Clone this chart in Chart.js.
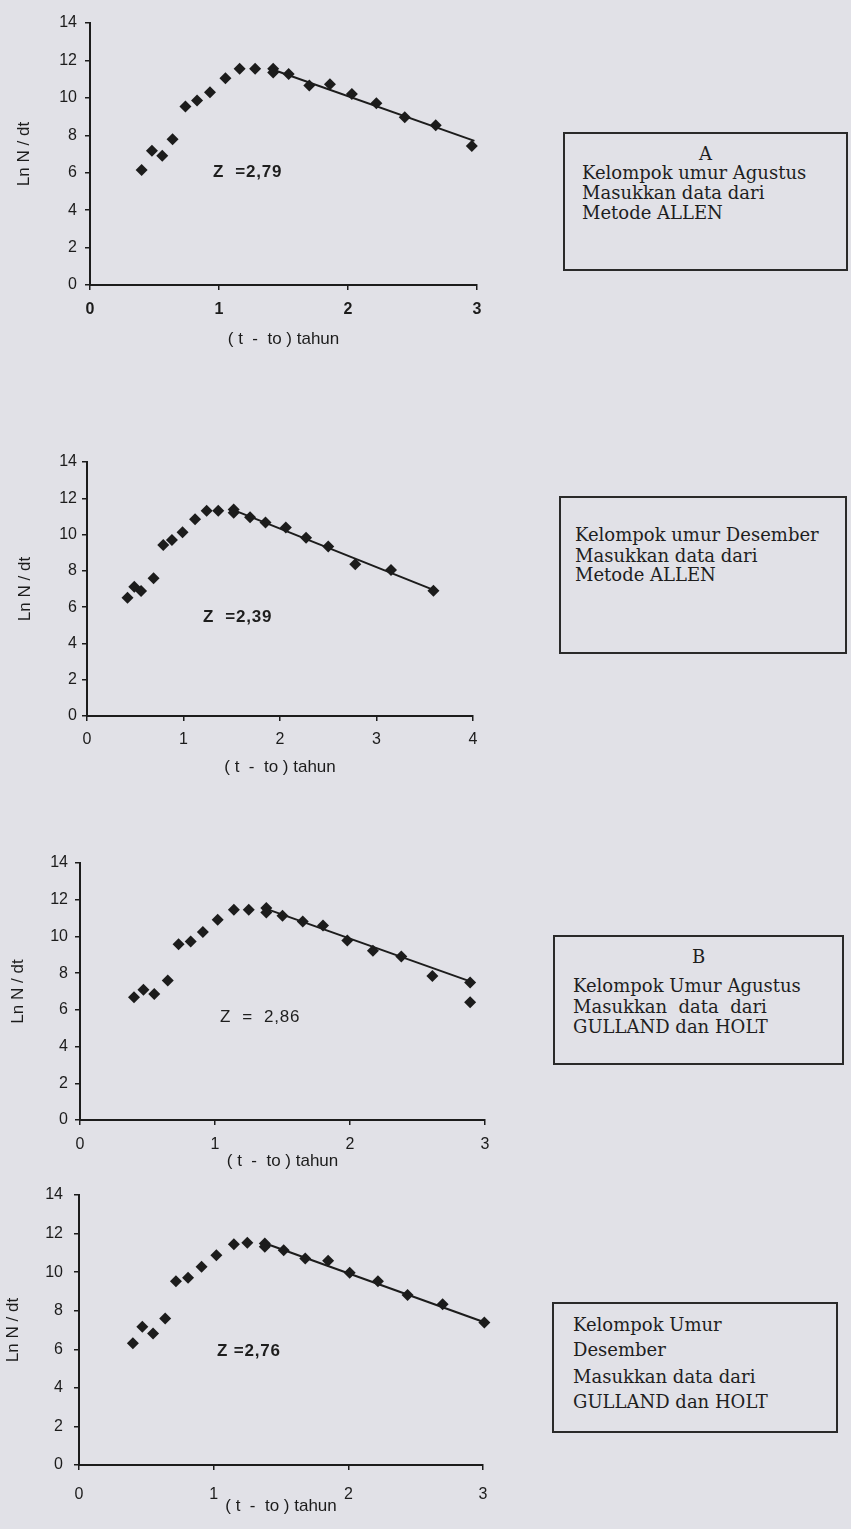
<!DOCTYPE html>
<html>
<head>
<meta charset="utf-8">
<script src="https://cdn.jsdelivr.net/npm/chart.js@4.4.1/dist/chart.umd.min.js"></script>
<style>
    body { margin: 0; background: #e1e1e7; }
    #page { position: relative; width: 851px; height: 1529px; overflow: hidden; background: #e1e1e7; }
    canvas { position: absolute; left: 0; }
    .zlabel { position: absolute; font-family: "Liberation Sans", Arial, sans-serif; font-size: 17px; letter-spacing: 0.8px; color: #1e1e1e; white-space: pre; }
    .caja { position: absolute; border: 2px solid #2a2a2a; font-family: "DejaVu Serif", "Liberation Serif", serif; font-size: 18px; line-height: 20px; color: #1e1e1e; box-sizing: border-box; }
    .caja div { position: absolute; white-space: pre; }
</style>
</head>
<body>
<div id="page">
    <canvas id="g1" width="510" height="360" style="top:0px"></canvas>
    <canvas id="g2" width="510" height="360" style="top:430px"></canvas>
    <canvas id="g3" width="510" height="340" style="top:840px"></canvas>
    <canvas id="g4" width="510" height="359" style="top:1170px"></canvas>

    <div class="zlabel" style="left:213px; top:162px; font-weight:bold;">Z  =2,79</div>
    <div class="zlabel" style="left:203px; top:607px; font-weight:bold;">Z  =2,39</div>
    <div class="zlabel" style="left:220px; top:1007px;">Z  =  2,86</div>
    <div class="zlabel" style="left:217px; top:1341px; font-weight:bold;">Z =2,76</div>

    <div class="caja" style="left:563px; top:132px; width:285px; height:139px;">
        <div style="left:0; width:100%; text-align:center; top:10px;">A</div>
        <div style="left:17px; top:29px;">Kelompok umur Agustus</div>
        <div style="left:17px; top:49px;">Masukkan data dari</div>
        <div style="left:17px; top:69px;">Metode ALLEN</div>
    </div>
    <div class="caja" style="left:559px; top:496px; width:288px; height:158px;">
        <div style="left:14px; top:27px;">Kelompok umur Desember</div>
        <div style="left:14px; top:48px;">Masukkan data dari</div>
        <div style="left:14px; top:67px;">Metode ALLEN</div>
    </div>
    <div class="caja" style="left:553px; top:935px; width:291px; height:130px;">
        <div style="left:0; width:100%; text-align:center; top:10px;">B</div>
        <div style="left:18px; top:39px;">Kelompok Umur Agustus</div>
        <div style="left:18px; top:60px;">Masukkan  data  dari</div>
        <div style="left:18px; top:80px;">GULLAND dan HOLT</div>
    </div>
    <div class="caja" style="left:552px; top:1302px; width:286px; height:131px;">
        <div style="left:19px; top:11px;">Kelompok Umur</div>
        <div style="left:19px; top:36px;">Desember</div>
        <div style="left:19px; top:63px;">Masukkan data dari</div>
        <div style="left:19px; top:88px;">GULLAND dan HOLT</div>
    </div>
</div>

<script>
    // A - Agustus, ALLEN
    var xA = [0.40, 0.48, 0.56, 0.64, 0.74, 0.83, 0.93, 1.05, 1.16, 1.28, 1.42, 1.42, 1.54, 1.70, 1.86, 2.03, 2.22, 2.44, 2.68, 2.96];
    var yA = [6.15, 7.18, 6.90, 7.79, 9.54, 9.86, 10.30, 11.05, 11.55, 11.55, 11.55, 11.35, 11.28, 10.66, 10.73, 10.20, 9.71, 8.97, 8.54, 7.43];
    var garisXA = [1.42, 2.98];
    var garisYA = [11.5, 7.7];

    // Desember, ALLEN
    var xD = [0.42, 0.49, 0.56, 0.69, 0.79, 0.88, 0.99, 1.12, 1.24, 1.36, 1.52, 1.52, 1.69, 1.85, 2.06, 2.27, 2.50, 2.78, 3.15, 3.59];
    var yD = [6.52, 7.13, 6.89, 7.59, 9.43, 9.70, 10.13, 10.85, 11.31, 11.31, 11.38, 11.20, 10.96, 10.66, 10.39, 9.83, 9.34, 8.36, 8.05, 6.91];
    var garisXD = [1.52, 3.59];
    var garisYD = [11.35, 6.95];

    // B - Agustus, GULLAND dan HOLT
    var xB = [0.40, 0.47, 0.55, 0.65, 0.73, 0.82, 0.91, 1.02, 1.14, 1.25, 1.38, 1.38, 1.50, 1.65, 1.80, 1.98, 2.17, 2.38, 2.61, 2.89, 2.89];
    var yB = [6.69, 7.09, 6.87, 7.60, 9.58, 9.73, 10.24, 10.91, 11.45, 11.45, 11.55, 11.31, 11.13, 10.82, 10.60, 9.78, 9.22, 8.91, 7.85, 7.49, 6.42];
    var garisXB = [1.38, 2.89];
    var garisYB = [11.5, 7.55];

    // Desember, GULLAND dan HOLT
    var xE = [0.40, 0.47, 0.55, 0.64, 0.72, 0.81, 0.91, 1.02, 1.15, 1.25, 1.38, 1.38, 1.52, 1.68, 1.85, 2.01, 2.22, 2.44, 2.70, 3.01];
    var yE = [6.31, 7.17, 6.82, 7.60, 9.53, 9.71, 10.28, 10.88, 11.45, 11.52, 11.49, 11.32, 11.14, 10.71, 10.59, 9.97, 9.53, 8.81, 8.34, 7.39];
    var garisXE = [1.38, 3.01];
    var garisYE = [11.5, 7.4];

    var yTicksMax = 14;
    var judulX = '( t  -  to ) tahun';
    var judulY = 'Ln N / dt';

    var hitam = '#1c1c1c';
    var keluarga = '"Liberation Sans", Arial, sans-serif';

    function titik(xs, ys) {
        return xs.map(function(x, i) {
            return { x: x, y: ys[i] };
        });
    }

    function buatGrafik(id, xs, ys, gx, gy, xMax, o) {
        var ctx = document.getElementById(id).getContext('2d');
        return new Chart(ctx, {
            type: 'scatter',
            data: {
                datasets: [
                    {
                        data: titik(gx, gy),
                        showLine: true,
                        clip: false,
                        borderColor: hitam,
                        borderWidth: 2,
                        pointRadius: 0
                    },
                    {
                        data: titik(xs, ys),
                        clip: false,
                        pointStyle: 'rectRot',
                        pointRadius: 6,
                        backgroundColor: hitam,
                        borderColor: hitam,
                        borderWidth: 0
                    }
                ]
            },
            options: {
                responsive: false,
                animation: false,
                layout: { padding: { top: o.top, right: o.right, left: 0, bottom: 0 } },
                plugins: { legend: { display: false }, tooltip: { enabled: false } },
                scales: {
                    x: {
                        type: 'linear',
                        min: 0,
                        max: xMax,
                        afterFit: function(s) { s.height = o.xH; },
                        ticks: { stepSize: 1, padding: o.xPad, color: hitam, font: { family: keluarga, size: 16, weight: o.bold ? 'bold' : 'normal' } },
                        grid: { drawOnChartArea: false, tickLength: 5, color: hitam, lineWidth: 1.5 },
                        border: { color: hitam, width: 2 },
                        title: { display: true, text: judulX, color: hitam, font: { family: keluarga, size: 17 }, padding: { top: 0, bottom: o.tPad } }
                    },
                    y: {
                        min: 0,
                        max: yTicksMax,
                        afterFit: function(s) { s.width = o.yW; },
                        ticks: { stepSize: 2, padding: o.yPad, color: hitam, font: { family: keluarga, size: 16 } },
                        grid: { drawOnChartArea: false, tickLength: 5, color: hitam, lineWidth: 1.5 },
                        border: { color: hitam, width: 2 },
                        title: { display: true, text: judulY, color: hitam, font: { family: keluarga, size: 17 }, padding: { top: o.yT, bottom: 0 } }
                    }
                }
            }
        });
    }

    buatGrafik('g1', xA, yA, garisXA, garisYA, 3, { top: 23, right: 33, xH: 75, xPad: 10, tPad: 10, yW: 90, yPad: 8, yT: 14, bold: true });
    buatGrafik('g2', xD, yD, garisXD, garisYD, 4, { top: 32, right: 37, xH: 74, xPad: 9, tPad: 12, yW: 87, yPad: 5, yT: 15, bold: false });
    buatGrafik('g3', xB, yB, garisXB, garisYB, 3, { top: 23, right: 25, xH: 60, xPad: 10, tPad: 8, yW: 80, yPad: 7, yT: 8, bold: false });
    buatGrafik('g4', xE, yE, garisXE, garisYE, 3, { top: 25, right: 27, xH: 64, xPad: 15, tPad: 12, yW: 79, yPad: 11, yT: 3, bold: false });
</script>
</body>
</html>
